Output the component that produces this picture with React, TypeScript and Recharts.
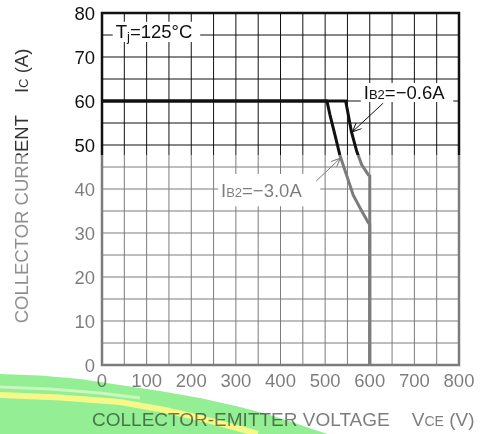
import { LineChart, Line, XAxis, YAxis, CartesianGrid, ReferenceLine, ReferenceArea } from 'recharts';

const FONT = '"Liberation Sans", Arial, sans-serif';
const INK = '#111';

const xTicks = [0, 100, 200, 300, 400, 500, 600, 700, 800];
const yTicks = [0, 10, 20, 30, 40, 50, 60, 70, 80];
const xGrid = [50, 100, 150, 200, 250, 300, 350, 400, 450, 500, 550, 600, 650, 700, 750];
const yGrid = [5, 10, 15, 20, 25, 30, 35, 40, 45, 50, 55, 60, 65, 70, 75];

// IB2 = -3.0A
const vceA = [0, 504, 511, 522, 533, 548, 563, 582, 597, 600, 600];
const icA = [60, 60, 56.8, 52.3, 47.7, 43.2, 38.6, 35, 32.3, 32, 0];
// IB2 = -0.6A
const vceB = [0, 546, 552, 559, 571, 582, 597, 600, 600];
const icB = [60, 60, 56.8, 53, 48.5, 45.5, 43.2, 43, 0];

const seriesA = vceA.map((v, k) => ({ v, i: icA[k] }));
const seriesB = vceB.map((v, k) => ({ v, i: icB[k] }));

const textStyle = { fontFamily: FONT, fontSize: 18.5, fill: INK };

function BoxText({ viewBox, parts }: any) {
  if (!viewBox) return null;
  const x = viewBox.x + 3;
  const y = viewBox.y + viewBox.height / 2 + 6.5;
  return (
    <text x={x} y={y} style={textStyle}>
      {parts.map((p: any, k: number) => (
        <tspan key={k} fontSize={p.small ? 13 : 18.5} baselineShift={p.sub ? -3 : undefined}>
          {p.t}
        </tspan>
      ))}
    </text>
  );
}

function XTitle({ viewBox }: any) {
  if (!viewBox) return null;
  return (
    <text x={viewBox.x - 10} y={426} style={{ ...textStyle, fontSize: 19 }}>
      <tspan>COLLECTOR-EMITTER VOLTAGE</tspan>
      <tspan dx={22}>V</tspan>
      <tspan fontSize={14}>CE</tspan>
      <tspan> (V)</tspan>
    </text>
  );
}

function YTitle() {
  return (
    <text
      x={0}
      y={0}
      transform="translate(27.5,186) rotate(-90)"
      textAnchor="middle"
      style={{ ...textStyle, fill: '#333' }}
    >
      <tspan>COLLECTOR CURRENT</tspan>
      <tspan dx={22}>I</tspan>
      <tspan fontSize={13}>C</tspan>
      <tspan> (A)</tspan>
    </text>
  );
}

export default function App() {
  return (
    <div style={{ position: 'relative', width: 482, height: 434, background: '#fff', overflow: 'hidden' }}>
      <style>{`body{margin:0}`}</style>
      <LineChart width={482} height={434} margin={{ top: 13, right: 23, bottom: 39, left: 42 }}>
        <defs>
          <marker id="arrow" markerWidth="10" markerHeight="8" refX="9" refY="4" orient="auto" markerUnits="userSpaceOnUse">
            <path d="M0,0 L9,4 L0,8" fill="none" stroke={INK} strokeWidth={1} />
          </marker>
        </defs>
        <CartesianGrid horizontalValues={yGrid} verticalValues={xGrid} stroke={INK} strokeWidth={1} strokeOpacity={1} />
        <XAxis
          type="number"
          dataKey="v"
          domain={[0, 800]}
          ticks={xTicks}
          interval={0}
          axisLine={false}
          tickLine={false}
          tickSize={0}
          tickMargin={9}
          height={30}
          tick={textStyle}
          label={<XTitle />}
        />
        <YAxis
          type="number"
          dataKey="i"
          domain={[0, 80]}
          ticks={yTicks}
          interval={0}
          axisLine={false}
          tickLine={false}
          tickSize={0}
          tickMargin={7}
          width={60}
          tick={textStyle}
        />
        <ReferenceArea
          x1={24}
          x2={220}
          y1={73.4}
          y2={78}
          fill="#fff"
          fillOpacity={1}
          stroke="none"
          label={<BoxText parts={[{ t: 'T' }, { t: 'j', small: true, sub: true }, { t: '=125°C' }]} />}
        />
        <ReferenceArea
          x1={580}
          x2={787}
          y1={59.8}
          y2={64.1}
          fill="#fff"
          fillOpacity={1}
          stroke="none"
          label={<BoxText parts={[{ t: 'I' }, { t: 'B2', small: true }, { t: '=−0.6A' }]} />}
        />
        <ReferenceArea
          x1={260}
          x2={489}
          y1={36.1}
          y2={43.4}
          fill="#fff"
          fillOpacity={1}
          stroke="none"
          label={<BoxText parts={[{ t: 'I' }, { t: 'B2', small: true }, { t: '=−3.0A' }]} />}
        />
        <ReferenceLine segment={[{ x: 630, y: 59.5 }, { x: 561, y: 53 }]} stroke={INK} strokeWidth={1} markerEnd="url(#arrow)" />
        <ReferenceLine segment={[{ x: 480, y: 41.8 }, { x: 534, y: 47 }]} stroke={INK} strokeWidth={1} markerEnd="url(#arrow)" />
        <Line data={seriesA} dataKey="i" type="linear" stroke={INK} strokeWidth={3} dot={false} isAnimationActive={false} />
        <Line data={seriesB} dataKey="i" type="linear" stroke={INK} strokeWidth={3} dot={false} isAnimationActive={false} />
        <ReferenceArea x1={0} x2={800} y1={0} y2={80} fill="none" stroke={INK} strokeWidth={2.5} ifOverflow="visible" />
        <YTitle />
      </LineChart>
      {/* faded lower half of the scan */}
      <div
        style={{
          position: 'absolute',
          left: 0,
          top: 155,
          width: 482,
          height: 279,
          background: 'rgba(255,255,255,0.45)',
          pointerEvents: 'none',
        }}
      />
      {/* highlighter stroke across the bottom */}
      <svg
        width={482}
        height={434}
        viewBox="0 0 482 434"
        style={{ position: 'absolute', left: 0, top: 0, display: 'block', mixBlendMode: 'multiply', pointerEvents: 'none' }}
      >
        <polygon
          points="0,374 40,375.5 80,379 120,385 160,391 200,398 240,407 270,415 295,423 315,430 328,434 0,434"
          fill="#94ee94"
        />
        <polyline points="0,387 50,389 100,393 140,398" fill="none" stroke="#c8f8c0" strokeWidth={3} />
        <polyline
          points="0,395 60,397.5 120,402 165,410 200,418 230,426 258,434"
          fill="none"
          stroke="#f6f888"
          strokeWidth={6}
        />
      </svg>
    </div>
  );
}
